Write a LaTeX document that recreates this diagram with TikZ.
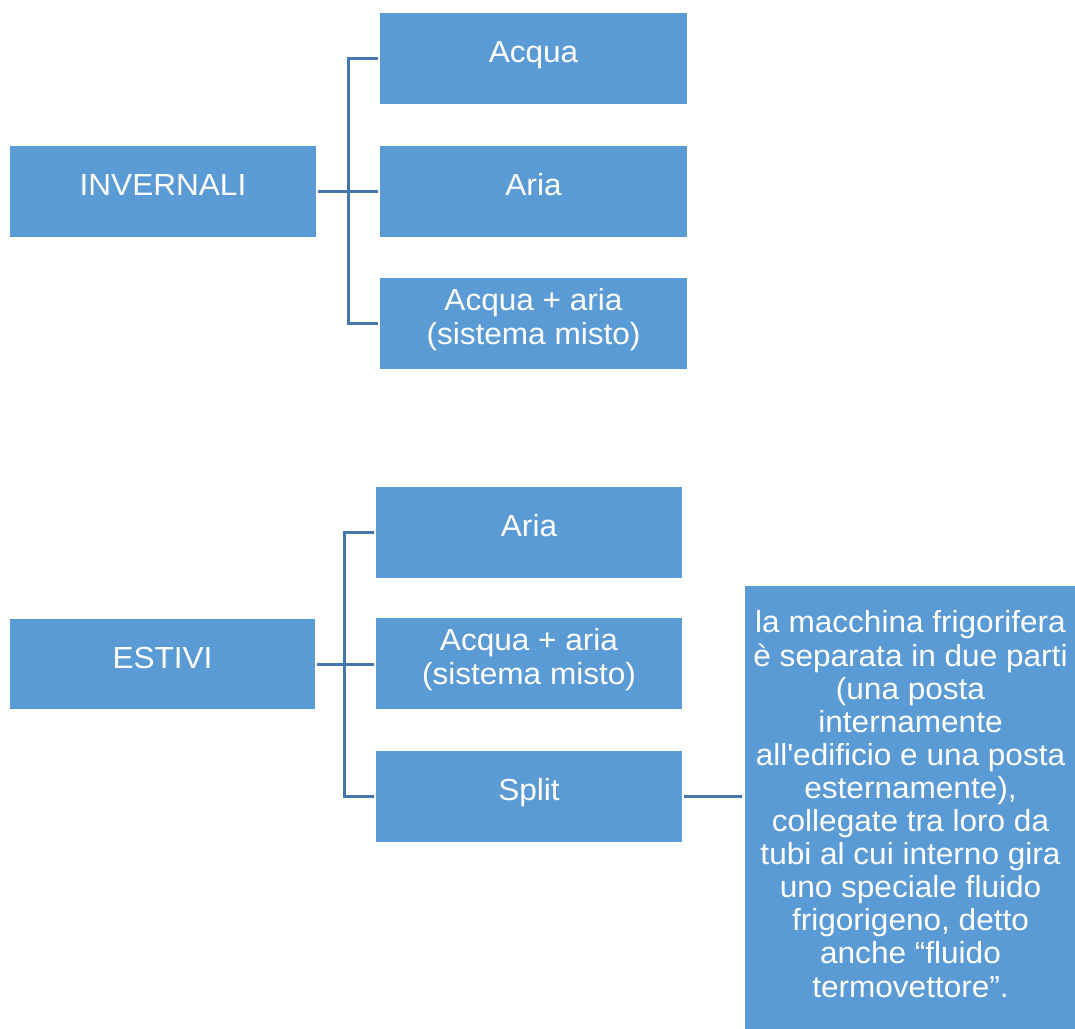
\documentclass[tikz,border=0pt]{standalone}
\usepackage{fontspec}
\setmainfont{Liberation Sans}[FakeStretch=1.035]
\definecolor{boxblue}{HTML}{5B9BD5}
\definecolor{lineblue}{HTML}{4676B0}
\begin{document}
\begin{tikzpicture}[x=1pt,y=-1pt,
  box/.style={fill=boxblue,draw=none,text=white,inner sep=0pt,
    minimum width=306pt,minimum height=91pt,align=center,
    font=\fontsize{30.5}{33.1}\selectfont},
  one/.style={box,text height=20pt,text depth=12pt},
  two/.style={box,text height=53pt,text depth=12pt},
  conn/.style={draw=lineblue,line width=3pt}]
\useasboundingbox (0,0) rectangle (1075,1028);
% winter group
\node[one] (inv) at (163,191) {INVERNALI};
\node[one,minimum width=307pt] (acqua) at (533.5,58.5) {Acqua};
\node[one,minimum width=307pt] (aria1) at (533.5,191.5) {Aria};
\node[two,minimum width=307pt] (mix1) at (533.5,323.5) {Acqua + aria\\(sistema misto)};
\coordinate (j1) at (348,191);
\draw[conn] ([xshift=2pt]inv.east) -- ([xshift=-2pt]inv.east -| aria1.west);
\draw[conn] ([xshift=-2pt]acqua.west) -| (j1) |- ([xshift=-2pt]mix1.west);
% summer group
\node[one,minimum width=305pt,minimum height=90pt] (est) at (162.5,664) {ESTIVI};
\node[one] (aria2) at (529,532.5) {Aria};
\node[two] (mix2) at (529,663.5) {Acqua + aria\\(sistema misto)};
\node[one] (split) at (529,796.5) {Split};
\node[box,minimum width=331pt,minimum height=443pt,text height=391pt,text depth=12pt] (desc) at (910.5,807.5)
 {la macchina frigorifera\\è separata in due parti\\(una posta\\internamente\\all\textquotesingle edificio e una posta\\esternamente),\\collegate tra loro da\\tubi al cui interno gira\\uno speciale fluido\\frigorigeno, detto\\anche “fluido\\termovettore”.};
\coordinate (j2) at (344,663.5);
\draw[conn] ([xshift=2pt]est.east) -- ([xshift=-2pt]est.east -| mix2.west);
\draw[conn] ([xshift=-2pt]aria2.west) -| (j2) |- ([xshift=-2pt]split.west);
\draw[conn] ([xshift=2pt]split.east) -- ([xshift=-3pt]split.east -| desc.west);
\end{tikzpicture}
\end{document}
